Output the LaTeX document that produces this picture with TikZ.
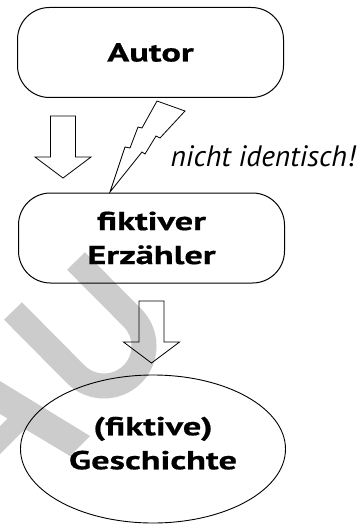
\documentclass[tikz,border=0pt]{standalone}
\usepackage{fontspec}
\setmainfont{PT Sans}
\newfontfamily\breitfont[FakeStretch=1.4, FakeBold=0.6]{PT Sans Bold}
\usetikzlibrary{shapes.geometric, positioning}

\begin{document}
\begin{tikzpicture}[x=1pt, y=-1pt,
  box/.style={draw, line width=1pt, rounded corners=32pt, minimum width=266pt, minimum height=90pt, align=center, font=\fontsize{26}{34}\selectfont\breitfont},
  oval/.style={draw, line width=0.9pt, ellipse, minimum width=265pt, minimum height=148pt, align=center, text depth=12pt, font=\fontsize{26}{34}\selectfont\breitfont},
  hohlpfeil/.pic={\draw[line width=0.8pt, line join=miter] (0,0) -- (-28,-21) -- (-12.5,-21) -- (-12.5,-62)
    -- (12.5,-62) -- (12.5,-21) -- (28,-21) -- cycle;},
  bolt/.style={draw, line width=0.8pt, line join=miter},
  wmark/.style={line width=25pt, black!20},
]
  \useasboundingbox (0,0) rectangle (360,524);
  % watermark
  \draw[wmark] (76,261) -- (132.3,317.7) arc[start angle=-45, end angle=135, radius=40] -- (13,311);
  \fill[black!20] (-5,378) -- (90,436) -- (70,456) -- (-5,411) -- cycle;
  \fill[black!20] (-17,443) -- (23,403) -- (37,417) -- (-3,457) -- cycle;

  \node[box] (autor) at (150.5,52.5) {Autor};
  \node[box] (erz) at (151.5,238) {fiktiver\\Erzähler};
  \node[oval] (gesch) at (153,449) {(fiktive)\\Geschichte};

  \pic (pfeil1) at (63,178) {hohlpfeil};
  \pic (pfeil2) at (151.5,363) {hohlpfeil};

  % blitz
  \coordinate (blitz) at (110,192);
  \draw[bolt, shift={(blitz)}] (0,0) -- (15,-45) -- (20,-44) -- (28,-65) -- (32,-64) -- (47,-91)
    -- (75,-81) -- (50,-54) -- (46,-56) -- (35,-38) -- (32,-40) -- cycle;
  \node[anchor=base west, font=\fontsize{29.5}{34}\selectfont\itshape] (label) at (167,166) {nicht identisch!};
\end{tikzpicture}
\end{document}
